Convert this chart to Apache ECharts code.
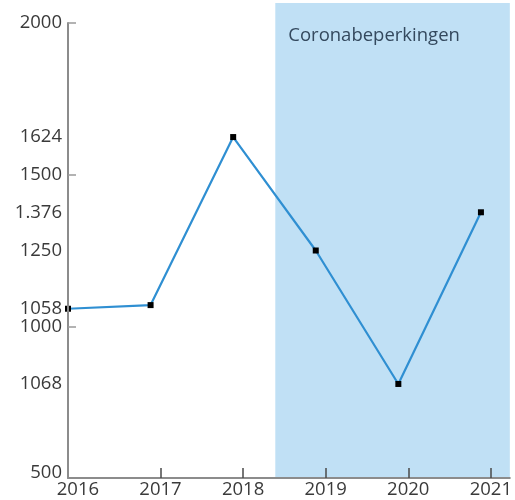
<!DOCTYPE html>
<html>
<head>
<meta charset="utf-8">
<script src="https://cdn.jsdelivr.net/npm/echarts@6/dist/echarts.min.js"></script>
<style>html,body{margin:0;padding:0;background:#fff}#c{width:515px;height:500px}</style>
</head>
<body>
<div id="c"></div>
<script>
const years = [2016, 2017, 2018, 2019, 2020, 2021];
const values = [1058, 1070, 1624, 1250, 810, 1376];
const yTickValues = [1000, 1500, 2000];
const yLabelValues = [500, 1000, 1500, 2000, 1058, 810, 1250, 1376, 1624];
const yLabelTexts = ['500', '1000', '1500', '2000', '1058', '1068', '1250', '1.376', '1624'];
const coronaRange = [2018.51, 2021.35];
const coronaLabel = 'Coronabeperkingen';

const labelShift = 0.12;
const FONT = '"Open Sans", "Noto Sans", sans-serif';
const chart = echarts.init(document.getElementById('c'));
chart.setOption({
  animation: false,
  grid: { left: 68, right: 3, top: 23, bottom: 22, containLabel: false },
  xAxis: {
    type: 'value', min: 2016, max: 2021.35, z: 5,
    splitLine: { show: false },
    axisLine: { show: true, lineStyle: { color: '#8c8c8c', width: 2 } },
    axisTick: { show: true, inside: true, length: 10, lineStyle: { color: '#4a4a4a', width: 1.5 },
      customValues: years.slice(1).map(y => y + labelShift) },
    axisLabel: { color: '#3a3a3a', fontFamily: FONT, fontSize: 18.5, margin: 2,
      customValues: years.map(y => y + labelShift),
      formatter: v => String(Math.round(v - labelShift)) }
  },
  yAxis: {
    type: 'value', min: 500, max: 2000, z: 5,
    splitLine: { show: false },
    axisLine: { show: true, lineStyle: { color: '#8c8c8c', width: 2 } },
    axisTick: { show: true, inside: true, length: 8, lineStyle: { color: '#9a9a9a', width: 1.5 },
      customValues: yTickValues },
    axisLabel: { color: '#3a3a3a', fontFamily: FONT, fontSize: 18.5, margin: 6,
      customValues: yLabelValues,
      formatter: v => {
        const t = yLabelTexts[yLabelValues.indexOf(v)];
        return v === 500 ? '{low|' + t + '}' : t;
      },
      rich: { low: { fontFamily: FONT, fontSize: 18.5, color: '#3a3a3a', padding: [0, 0, 10, 0] } }
    }
  },
  series: [
    {
      type: 'custom', z: 1, clip: false, silent: true,
      data: [coronaRange],
      encode: { x: [0, 1] },
      renderItem: (params, api) => {
        const p0 = api.coord([api.value(0), 2000]);
        const p1 = api.coord([api.value(1), 500]);
        const top = params.coordSys.y - 20;
        return {
          type: 'group',
          children: [
            { type: 'rect', shape: { x: p0[0], y: top, width: p1[0] - p0[0], height: p1[1] - top },
              style: { fill: '#c0e0f5' } },
            { type: 'text', style: { text: coronaLabel, x: p0[0] + 13, y: top + 33,
              fill: '#34495e', font: '18.5px ' + FONT, verticalAlign: 'middle' } }
          ]
        };
      }
    },
    {
      type: 'line', z: 3,
      data: years.map((y, i) => [y, values[i]]),
      symbol: 'rect', symbolSize: 6,
      itemStyle: { color: '#000' },
      lineStyle: { color: '#2f8fd2', width: 2.2 }
    }
  ]
});
</script>
</body>
</html>
